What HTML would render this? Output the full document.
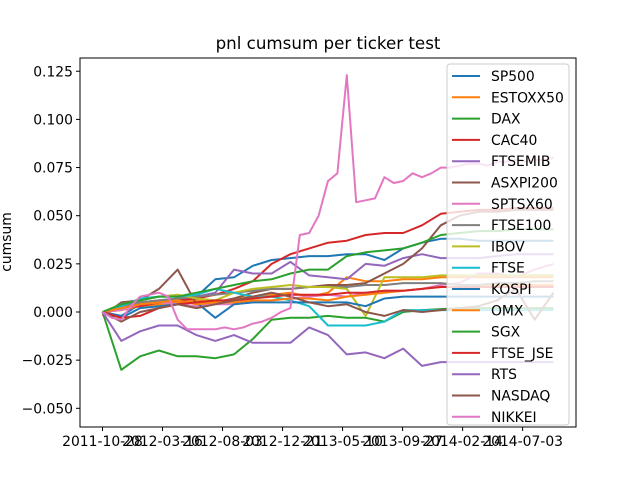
<!DOCTYPE html>
<html><head><meta charset="utf-8"><style>
body{margin:0;background:#fff;font-family:"Liberation Sans","DejaVu Sans",sans-serif;}
svg text{font-family:"DejaVu Sans","Liberation Sans",sans-serif;}
</style></head><body>
<svg id="chart" width="640" height="480" viewBox="0 0 640 480" xmlns="http://www.w3.org/2000/svg">
<rect width="640" height="480" fill="#fff"/>
<text x="328" y="49" font-size="16.7" text-anchor="middle">pnl cumsum per ticker test</text>
<text x="0" y="0" font-size="13.9" text-anchor="middle" transform="translate(11,242) rotate(-90)">cumsum</text>
<g id="plot"></g>
<rect x="80" y="58" width="496" height="369" fill="none" stroke="#000" stroke-width="1"/>
<g id="axes"></g>
<g id="legend"></g>
</svg>
<script>
const xTickLabels=["2011-10-28","2012-03-16","2012-08-03","2012-12-21","2013-05-10","2013-09-27","2014-02-14","2014-07-03"];
const xTickDays=[0,140,280,420,560,700,840,980];
const yTicks=[-0.05,-0.025,0,0.025,0.05,0.075,0.1,0.125];
const yTickLabels=["−0.050","−0.025","0.000","0.025","0.050","0.075","0.100","0.125"];
const names=["SP500","ESTOXX50","DAX","CAC40","FTSEMIB","ASXPI200","SPTSX60","FTSE100","IBOV","FTSE","KOSPI","OMX","SGX","FTSE_JSE","RTS","NASDAQ","NIKKEI"];
const colors=["#1f77b4","#ff7f0e","#2ca02c","#d62728","#9467bd","#8c564b","#e377c2","#7f7f7f","#bcbd22","#17becf","#1f77b4","#ff7f0e","#2ca02c","#d62728","#9467bd","#8c564b","#e377c2"];
const sp500=[0,-0.002,0.004,0.006,0.005,0.008,0.017,0.018,0.024,0.027,0.028,0.029,0.029,0.03,0.03,0.027,0.033,0.036,0.038,0.038,0.037,0.037,0.037,0.037,0.037];
const estoxx50=[0,0.001,0.003,0.004,0.005,0.006,0.005,0.007,0.008,0.009,0.01,0.008,0.01,0.018,0.016,0.016,0.017,0.017,0.018,0.018,0.018,0.018,0.018,0.018,0.018];
const dax=[0,-0.03,-0.023,-0.02,-0.023,-0.023,-0.024,-0.022,-0.014,-0.004,-0.003,-0.003,-0.002,-0.003,-0.003,-0.005,0,0.001,0.0015,0.002,0.002,0.002,0.002,0.002,0.002];
const cac40=[0,0.002,0.003,0.005,0.006,0.007,0.009,0.012,0.016,0.025,0.03,0.033,0.036,0.037,0.04,0.041,0.041,0.045,0.051,0.052,0.053,0.053,0.054,0.054,0.054];
const ftsemib=[0,0.002,0.005,0.006,0.007,0.008,0.01,0.022,0.02,0.02,0.026,0.019,0.018,0.017,0.025,0.024,0.028,0.03,0.028,0.028,0.028,0.029,0.03,0.03,0.03];
const asxpi200=[-0.002,0.005,0.006,0.012,0.022,0.004,0.005,0.007,0.01,0.012,0.012,0.013,0.014,0.014,0.015,0.02,0.025,0.033,0.045,0.05,0.052,0.052,0.053,0.053,0.053];
const sptsx60=[0,0.001,0.004,0.005,0.004,0.003,0.004,0.004,0.005,0.006,0.007,0.008,0.009,0.008,0.01,0.011,0.011,0.012,0.014,0.015,0.02,0.02,0.018,0.022,0.025];
const ftse100=[0,0.003,0.005,0.006,0.007,0.008,0.009,0.01,0.011,0.012,0.012,0.013,0.013,0.013,0.014,0.014,0.015,0.015,0.015,0.014,0.014,0.015,0.015,0.016,0.016];
const ibov=[0,0.004,0.006,0.008,0.009,0.007,0.006,0.01,0.012,0.013,0.014,0.013,0.013,0.012,-0.002,0.018,0.018,0.018,0.019,0.019,0.019,0.019,0.019,0.019,0.019];
const ftse=[0,0.003,0.007,0.008,0.008,0.009,0.012,0.01,0.008,0.008,0.006,0.003,-0.007,-0.007,-0.007,-0.005,0.001,0.001,0.001,0.001,0.001,0.001,0.001,0.001,0.001];
const kospi=[0,-0.003,0.002,0.003,0.004,0.005,-0.003,0.004,0.005,0.005,0.005,0.005,0.005,0.005,0.003,0.007,0.008,0.008,0.008,0.008,0.008,0.008,0.008,0.008,0.008];
const omx=[0,0.002,0.004,0.005,0.006,0.004,0.005,0.005,0.006,0.006,0.007,0.007,0.006,0.008,0.009,0.01,0.011,0.012,0.013,0.013,0.013,0.014,0.014,0.014,0.014];
const sgx=[0,0.004,0.006,0.008,0.008,0.01,0.012,0.014,0.016,0.017,0.02,0.022,0.022,0.029,0.031,0.032,0.033,0.036,0.04,0.041,0.042,0.042,0.043,0.043,0.043];
const ftseJse=[0,-0.003,-0.002,0.002,0.004,0.005,0.006,0.006,0.007,0.008,0.009,0.009,0.009,0.01,0.01,0.011,0.011,0.012,0.013,0.013,0.013,0.013,0.013,0.013,0.013];
const rts=[0,-0.015,-0.01,-0.007,-0.007,-0.012,-0.015,-0.012,-0.016,-0.016,-0.016,-0.008,-0.012,-0.022,-0.021,-0.024,-0.019,-0.028,-0.026,-0.026,-0.026,-0.026,-0.026,-0.026,-0.026];
const nasdaq=[0,-0.005,0,0.002,0.004,0.002,0.004,0.006,0.008,0.01,0.008,0.005,0.003,0.004,0,-0.002,0.001,0,0.001,0.002,0.003,0.006,0.012,-0.004,0.01];
const nikkei=[0,-0.003,-0.004,0.003,0.008,0.009,0.01,0.008,-0.004,-0.009,-0.009,-0.009,-0.009,-0.008,-0.009,-0.008,-0.006,-0.005,-0.003,0,0.002,0.04,0.041,0.05,0.068,0.072,0.123,0.057,0.058,0.059,0.07,0.067,0.068,0.072,0.07,0.072,0.075,0.075,0.076,0.077,0.077,0.076,0.078,0.078,0.079,0.078,0.079,0.079,0.08];
const seriesList=[sp500,estoxx50,dax,cac40,ftsemib,asxpi200,sptsx60,ftse100,ibov,ftse,kospi,omx,sgx,ftseJse,rts,nasdaq,nikkei];

const NS="http://www.w3.org/2000/svg";
const totalDays=1052;
function xDay(d){return 102.5+d/totalDays*451;}
function yVal(v){return 312-v*1926;}
function mk(tag,attrs,parent){const e=document.createElementNS(NS,tag);for(const k in attrs)e.setAttribute(k,attrs[k]);parent.appendChild(e);return e;}

const plot=document.getElementById('plot');
seriesList.forEach((s,si)=>{
  const n=s.length;
  const pts=s.map((v,i)=>xDay(i/(n-1)*totalDays).toFixed(1)+","+yVal(v).toFixed(1)).join(" ");
  const pl=mk('polyline',{points:pts,fill:'none',stroke:colors[si],'stroke-width':2,'stroke-linejoin':'round'},plot);
  
  
});

const axes=document.getElementById('axes');
xTickDays.forEach((d,i)=>{
  const x=xDay(d);
  const t=mk('line',{x1:x,y1:427,x2:x,y2:431,stroke:'#000','stroke-width':1},axes);
  
  
  const lb=mk('text',{x:x,y:446,'font-size':13.9,'text-anchor':'middle'},axes);
  
  
  lb.textContent=xTickLabels[i];
});
yTicks.forEach((v,i)=>{
  const y=yVal(v);
  const t=mk('line',{x1:76,y1:y,x2:80,y2:y,stroke:'#000','stroke-width':1},axes);
  
  
  const lb=mk('text',{x:73,y:y+5,'font-size':13.9,'text-anchor':'end'},axes);
  
  
  lb.textContent=yTickLabels[i];
});

const lg=document.getElementById('legend');
const box=mk('rect',{x:447,y:64,width:122,height:361,rx:3,fill:'#fff','fill-opacity':0.8,stroke:'#ccc','stroke-width':1},lg);


names.forEach((nm,i)=>{
  const y=76+i*21.3;
  const g=mk('g',{},lg);
  
  
  mk('line',{x1:452,y1:y,x2:480,y2:y,stroke:colors[i],'stroke-width':2},g);
  const t=mk('text',{x:491,y:y+5,'font-size':13.9},g);
  t.textContent=nm;
});
</script>
</body></html>
